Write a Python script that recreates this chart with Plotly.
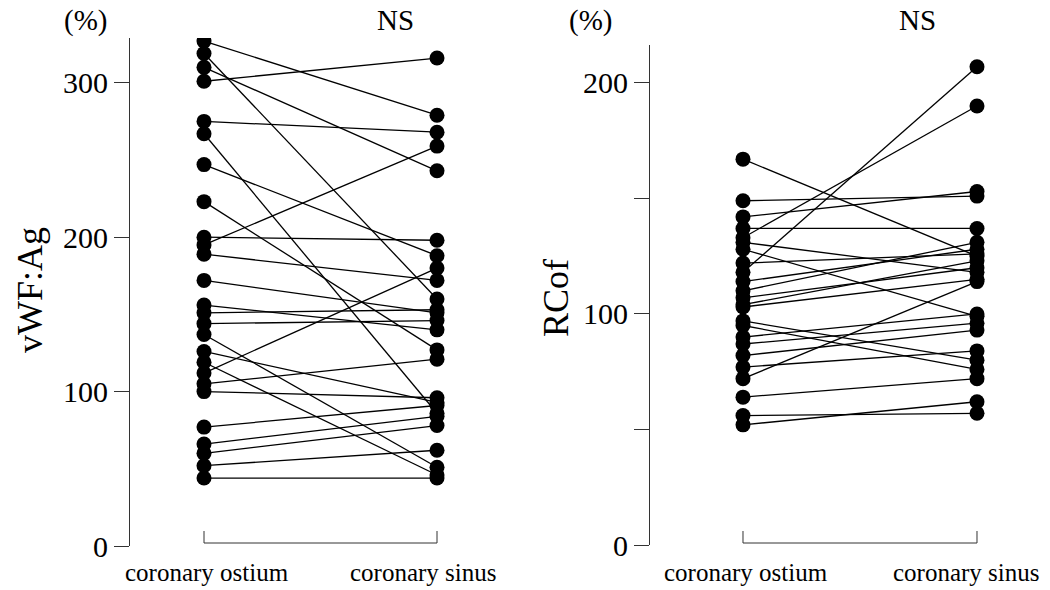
import plotly.graph_objects as go

W, H = 1050, 590

categories = ["coronary ostium", "coronary sinus"]

# Left panel: vWF:Ag (%)
vwf_ostium = [327, 319, 310, 301, 275, 267, 247, 223, 200, 195, 189, 172, 156,
              151, 144, 137, 126, 119, 112, 105, 100, 77, 66, 60, 52, 44]
vwf_sinus = [279, 160, 243, 316, 268, 86, 188, 127, 198, 259, 172, 151, 140,
             153, 146, 51, 93, 46, 180, 121, 96, 91, 84, 78, 62, 44]

# Right panel: RCof (%)
rcof_ostium = [167, 149, 142, 137, 133, 131, 128, 122, 118, 114, 110, 107, 104,
               103, 97, 95, 90, 87, 82, 77, 72, 64, 56, 52]
rcof_sinus = [125, 151, 153, 137, 190, 118, 99, 126, 207, 128, 131, 120, 123,
              115, 80, 76, 100, 96, 93, 84, 114, 72, 57, 62]

left_ticks = [0, 100, 200, 300]
right_ticks = [0, 50, 100, 150, 200]
right_ticktext = ["0", "", "100", "", "200"]

SERIF = "Liberation Serif, Times New Roman, serif"
AX = "#333333"


def paired(o, s):
    xs, ys = [], []
    for a, b in zip(o, s):
        xs += [0, 1, None]
        ys += [a, b, None]
    return xs, ys


fig = go.Figure()
for (o, s, xa, ya) in [(vwf_ostium, vwf_sinus, "x", "y"),
                       (rcof_ostium, rcof_sinus, "x2", "y2")]:
    xs, ys = paired(o, s)
    fig.add_trace(go.Scatter(
        x=xs, y=ys, xaxis=xa, yaxis=ya, mode="lines+markers",
        line=dict(color="black", width=1.3),
        marker=dict(color="black", size=15),
        showlegend=False, connectgaps=False, hoverinfo="skip"))


def px_x(p):
    return p / W


def px_y(p):
    return 1 - p / H


fig.update_layout(
    xaxis=dict(domain=[px_x(130), px_x(470)], range=[-0.3176, 1.1416],
               visible=False, automargin=False, fixedrange=True),
    yaxis=dict(domain=[px_y(546), px_y(38)], range=[0, 329],
               tickvals=left_ticks, showline=True, linecolor=AX, linewidth=1,
               ticks="outside", ticklen=15, tickcolor=AX, tickwidth=1,
               showgrid=False, zeroline=False, automargin=False,
               tickfont=dict(family=SERIF, size=30, color="black")),
    xaxis2=dict(domain=[px_x(650), px_x(1020)], range=[-0.3974, 1.1838],
                visible=False, automargin=False, anchor="y2", fixedrange=True),
    yaxis2=dict(domain=[px_y(545), px_y(45)], range=[0, 216.4],
                tickvals=right_ticks, ticktext=right_ticktext,
                showline=True, linecolor=AX, linewidth=1,
                ticks="outside", ticklen=15, tickcolor=AX, tickwidth=1,
                showgrid=False, zeroline=False, automargin=False,
                tickfont=dict(family=SERIF, size=30, color="black"),
                anchor="x2"),
)

# brackets under each panel
for xr in ["x", "x2"]:
    fig.add_shape(type="line", xref=xr, yref="paper", x0=0, x1=1,
                  y0=px_y(543), y1=px_y(543), line=dict(color=AX, width=1))
    for xv in [0, 1]:
        fig.add_shape(type="line", xref=xr, yref="paper", x0=xv, x1=xv,
                      y0=px_y(543), y1=px_y(531), line=dict(color=AX, width=1))

# category labels under the brackets
for text, x in zip(categories * 2, [207, 423, 746, 966]):
    fig.add_annotation(text=text, xref="paper", yref="paper", x=px_x(x), y=px_y(572),
                       showarrow=False, xanchor="center", yanchor="middle", borderpad=0,
                       font=dict(family=SERIF, size=25, color="black"))

# axis titles
for text, x, y in [("vWF:Ag", 30, 290), ("RCof", 556, 298)]:
    fig.add_annotation(text=text, xref="paper", yref="paper", x=px_x(x), y=px_y(y),
                       showarrow=False, xanchor="center", yanchor="middle", textangle=-90,
                       font=dict(family=SERIF, size=36, color="black"))

annots = [("(%)", 85, 20), ("NS", 395, 20), ("(%)", 590, 20), ("NS", 917, 20)]
for text, x, y in annots:
    fig.add_annotation(text=text, xref="paper", yref="paper", x=px_x(x), y=px_y(y),
                       showarrow=False, xanchor="center", yanchor="middle",
                       font=dict(family=SERIF, size=29, color="black"))

fig.update_layout(width=W, height=H, margin=dict(l=0, r=0, t=0, b=0),
                  paper_bgcolor="white", plot_bgcolor="white")

fig.write_html("out.html")
